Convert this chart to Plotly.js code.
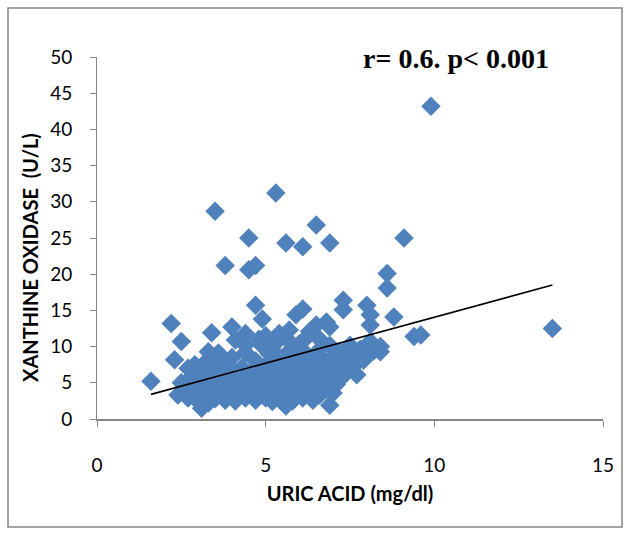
<!DOCTYPE html>
<html>
<head>
<meta charset="utf-8">
<script src="https://cdn.plot.ly/plotly-3.0.1.min.js"></script>
<style>html,body{margin:0;padding:0;background:#fff;}#chart{width:629px;height:534px;}</style>
</head>
<body>
<div id="chart"></div>
<script>
// URIC ACID (mg/dl)
const uricAcid = [
  9.9, 5.3, 3.5, 6.5, 4.5, 9.1, 5.6, 6.9, 6.1, 3.8, 4.7, 4.5, 8.6, 8.6, 7.3, 7.3, 8.0, 8.1, 8.8, 4.7,
  4.9, 6.1, 5.9, 6.5, 6.8, 8.1, 6.9, 13.5, 9.4, 9.6, 8.1, 8.4, 8.4, 7.5, 2.2, 2.5, 3.4, 4.0, 4.1, 4.4,
  5.4, 5.6, 6.3, 1.6, 2.3, 2.9, 3.6, 3.25, 3.1, 5.6, 6.9, 7.0,
  2.4, 2.6, 2.7, 2.8, 2.9, 3.0, 3.0, 3.1, 3.2, 3.2, 3.3, 3.3, 3.4, 3.4, 3.5, 3.5, 3.6, 3.6, 3.7, 3.7,
  3.8, 3.8, 3.9, 3.9, 4.0, 4.0, 4.0, 4.1, 4.1, 4.2, 4.2, 4.3, 4.3, 4.4, 4.4, 4.5, 4.5, 4.6, 4.6, 4.7,
  4.7, 4.8, 4.8, 4.9, 4.9, 5.0, 5.0, 5.0, 5.1, 5.1, 5.1, 5.2, 5.2, 5.2, 5.3, 5.3, 5.3, 5.4, 5.4, 5.5,
  5.5, 5.5, 5.6, 5.6, 5.7, 5.7, 5.8, 5.8, 5.8, 5.9, 5.9, 6.0, 6.0, 6.0, 6.1, 6.1, 6.2, 6.2, 6.3, 6.3,
  6.4, 6.4, 6.5, 6.5, 6.6, 6.6, 6.7, 6.7, 6.8, 6.8, 6.9, 6.9, 7.0, 7.1, 7.1, 7.2, 7.2, 7.3, 7.4, 7.5,
  7.6, 7.7, 7.9, 7.8, 8.0, 8.2, 2.5, 2.7, 4.8, 5.7, 6.2, 5.0, 4.4, 3.3, 6.6, 7.2
];
// XANTHINE OXIDASE (U/L)
const xanthineOxidase = [
  43.2, 31.2, 28.7, 26.8, 25.0, 25.0, 24.3, 24.3, 23.8, 21.2, 21.2, 20.6, 20.1, 18.1, 16.4, 15.1, 15.7, 14.4, 14.1, 15.7,
  13.8, 15.2, 14.4, 13.0, 13.4, 13.0, 12.7, 12.5, 11.4, 11.6, 10.7, 10.0, 9.3, 10.2, 13.2, 10.7, 11.9, 12.7, 10.9, 11.8,
  11.8, 11.2, 12.1, 5.2, 8.2, 7.5, 9.1, 8.0, 1.5, 1.8, 1.9, 3.6,
  3.3, 4.5, 2.9, 5.8, 3.8, 2.4, 6.6, 4.6, 3.1, 5.4, 9.3, 2.2, 7.0, 4.0, 5.8, 2.8, 3.6, 6.4, 4.9, 8.2,
  2.6, 3.9, 5.6, 7.4, 3.1, 4.5, 8.5, 6.0, 2.5, 5.1, 3.6, 7.1, 4.2, 2.9, 9.2, 5.6, 3.4, 6.6, 4.4, 2.6,
  8.0, 5.2, 3.7, 10.1, 6.1, 2.9, 4.6, 7.4, 3.5, 5.5, 9.0, 2.4, 6.6, 4.1, 10.5, 7.8, 3.0, 5.0, 8.6, 2.7,
  6.0, 4.3, 7.1, 3.4, 9.4, 5.3, 2.5, 6.5, 4.0, 8.2, 3.1, 5.7, 7.4, 10.4, 4.6, 2.9, 6.2, 9.0, 3.8, 5.1,
  7.9, 2.6, 6.8, 4.4, 9.6, 3.3, 5.6, 8.3, 7.1, 4.1, 10.2, 5.9, 8.6, 6.6, 4.8, 9.3, 5.5, 7.7, 6.4, 8.9,
  7.3, 6.1, 8.1, 9.6, 8.9, 9.4, 5.0, 7.0, 11.0, 12.3, 11.2, 11.5, 10.2, 3.8, 11.0, 7.0
];
// Linear trend line end points
const trendX = [1.6, 13.5];
const trendY = [3.4, 18.5];

const xTicks = [0, 5, 10, 15];
const yTicks = [0, 5, 10, 15, 20, 25, 30, 35, 40, 45, 50];

const sansFamily = 'Lato, "Open Sans", sans-serif';
const tickFont = {family: sansFamily, size: 19, color: '#000'};

const data = [
  {
    type: 'scatter', mode: 'markers',
    x: uricAcid, y: xanthineOxidase,
    marker: {symbol: 'diamond', size: 15, color: '#4F81BD', line: {width: 0}},
    cliponaxis: false, showlegend: false, hoverinfo: 'x+y'
  },
  {
    type: 'scatter', mode: 'lines',
    x: trendX, y: trendY,
    line: {color: '#000', width: 1.6},
    showlegend: false
  }
];

const layout = {
  width: 629, height: 534,
  margin: {l: 97, r: 26, t: 57, b: 115},
  paper_bgcolor: '#fff', plot_bgcolor: '#fff',
  showlegend: false,
  title: {
    text: 'r= 0.6. p< 0.001',
    font: {family: '"Liberation Serif", "Times New Roman", serif', size: 28, color: '#000', weight: 'bold'},
    x: 456 / 629, xanchor: 'center', xref: 'container',
    y: 1 - 58 / 534, yanchor: 'middle', yref: 'container'
  },
  xaxis: {
    range: [0, 15], tickvals: xTicks, ticktext: xTicks.map(String),
    showgrid: false, zeroline: false,
    showline: true, linecolor: '#868686', linewidth: 2,
    ticks: 'outside', ticklen: 6, tickcolor: '#868686', tickwidth: 1,
    ticklabelstandoff: 22,
    tickfont: tickFont,
    title: {text: 'URIC ACID (mg/dl)', font: {family: sansFamily, size: 20, color: '#000', weight: 'bold'}, standoff: 12},
    fixedrange: true
  },
  yaxis: {
    range: [0, 50], tickvals: yTicks, ticktext: yTicks.map(String),
    showgrid: false, zeroline: false,
    showline: true, linecolor: '#868686', linewidth: 1,
    ticks: 'outside', ticklen: 6, tickcolor: '#868686', tickwidth: 1,
    ticklabelstandoff: 14,
    tickfont: tickFont,
    fixedrange: true
  },
  annotations: [
    {text: 'XANTHINE OXIDASE  (U/L)', textangle: -90, showarrow: false,
     xref: 'paper', yref: 'paper',
     x: (30 - 97) / 506, y: (419 - 258) / 362, xanchor: 'center', yanchor: 'middle',
     font: {family: sansFamily, size: 20, color: '#000', weight: 'bold'}}
  ],
  shapes: [
    {type: 'rect', xref: 'paper', yref: 'paper',
     x0: (8 - 97) / 506, x1: (622 - 97) / 506,
     y0: (419 - 527) / 362, y1: (419 - 8) / 362,
     line: {color: '#868686', width: 1.5}, layer: 'below'}
  ]
};

Plotly.newPlot('chart', data, layout, {displayModeBar: false, staticPlot: true});
</script>
</body>
</html>
